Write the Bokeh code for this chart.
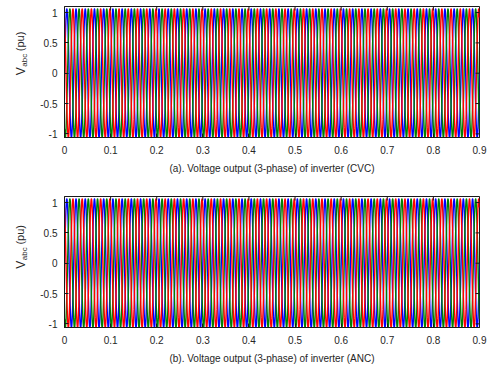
import numpy as np
from bokeh.plotting import figure
from bokeh.models import FixedTicker, Range1d
from bokeh.layouts import column, row
from bokeh.core.properties import value
from bokeh.embed import file_html
from bokeh.resources import INLINE

# ---- data ----
T_END = 0.9                       # s
SAMPLE_STEP = 0.0001              # s
FREQ_HZ = 50                      # fundamental frequency
PHASE_NAMES = ["a", "b", "c"]
PHASE_COLORS = ["#0000ff", "#008000", "#ff0000"]
PHASE_SHIFT_DEG = [0, -120, 120]
AMPLITUDE_CVC = [1.06, 1.06, 1.06]
AMPLITUDE_ANC = [1.06, 1.06, 1.06]
Y_MIN, Y_MAX = -1.06, 1.10
X_TICKS = [0, 0.1, 0.2, 0.3, 0.4, 0.5, 0.6, 0.7, 0.8, 0.9]
X_TICK_LABELS = ["0", "0.1", "0.2", "0.3", "0.4", "0.5", "0.6", "0.7", "0.8", "0.9"]
Y_TICKS = [-1, -0.5, 0, 0.5, 1]
Y_TICK_LABELS = ["-1", "-0.5", "0", "0.5", "1"]
Y_LABEL_PARTS = ["V", "abc", "(pu)"]
TITLES = ["(a). Voltage output (3-phase) of inverter (CVC)",
          "(b). Voltage output (3-phase) of inverter (ANC)"]

FONT = "Liberation Sans"
TXT = "#262626"
BOX = "#1a1a1a"

t = np.arange(0, T_END + SAMPLE_STEP / 2, SAMPLE_STEP)

W = 488
LBL_W = 30
B_LEFT, B_RIGHT = 64 - LBL_W, 9
FRAME_H = 131


def make_label_fig(height, b_top):
    lf = figure(width=LBL_W, height=height, output_backend="svg", toolbar_location=None,
                x_range=Range1d(0, LBL_W), y_range=Range1d(0, height),
                x_axis_location=None, y_axis_location=None,
                min_border=0, min_border_left=0, min_border_right=0,
                min_border_top=0, min_border_bottom=0)
    lf.grid.visible = False
    lf.outline_line_color = None
    lf.background_fill_color = "white"
    lf.border_fill_color = "white"
    center = b_top + FRAME_H / 2          # pixels from the top
    # (x baseline px, start offset below centre px, font size)
    specs = [(20.5, 26.0, "12px"), (23.5, 14.0, "8px"), (19.5, -8.0, "11px")]
    for txt, (bx, off, fs) in zip(Y_LABEL_PARTS, specs):
        lf.text(x=[bx], y=[height - (center + off)], text=[txt], angle=np.pi / 2,
                text_align="left", text_baseline="alphabetic",
                text_font=value(FONT), text_font_size=fs, text_color=TXT)
    return lf


def make_fig(amps, title, height, b_top):
    b_bottom = height - b_top - FRAME_H
    frame_w = W - LBL_W - B_LEFT - B_RIGHT
    p = figure(width=W - LBL_W, height=height, output_backend="svg", toolbar_location=None,
               x_range=Range1d(0, T_END), y_range=Range1d(Y_MIN, Y_MAX),
               min_border_left=B_LEFT, min_border_right=B_RIGHT,
               min_border_top=b_top, min_border_bottom=b_bottom)
    p.grid.visible = False
    p.outline_line_color = BOX
    p.outline_line_width = 1
    p.background_fill_color = "white"
    p.border_fill_color = "white"

    for amp, sh, col in zip(amps, PHASE_SHIFT_DEG, PHASE_COLORS):
        v = amp * np.sin(2 * np.pi * FREQ_HZ * t + np.deg2rad(sh))
        p.line(t, v, line_color=col, line_width=1.4)

    # box-style inward ticks on top and right edges
    dy = 4 * (Y_MAX - Y_MIN) / FRAME_H
    dx = 4 * T_END / frame_w
    p.segment(x0=X_TICKS, y0=[Y_MAX] * len(X_TICKS), x1=X_TICKS, y1=[Y_MAX - dy] * len(X_TICKS),
              line_color=BOX, line_width=1)
    p.segment(x0=[T_END] * len(Y_TICKS), y0=Y_TICKS, x1=[T_END - dx] * len(Y_TICKS), y1=Y_TICKS,
              line_color=BOX, line_width=1)

    xa = p.xaxis[0]
    xa.ticker = FixedTicker(ticks=X_TICKS)
    xa.major_label_overrides = {tk: lb for tk, lb in zip(X_TICKS, X_TICK_LABELS)}
    ya = p.yaxis[0]
    ya.ticker = FixedTicker(ticks=Y_TICKS)
    ya.major_label_overrides = {tk: lb for tk, lb in zip(Y_TICKS, Y_TICK_LABELS)}

    for ax in (xa, ya):
        ax.major_tick_in = 4
        ax.major_tick_out = 0
        ax.minor_tick_line_color = None
        ax.axis_line_color = BOX
        ax.major_tick_line_color = BOX
        ax.major_label_text_font = FONT
        ax.major_label_text_font_size = "10px"
        ax.major_label_text_color = TXT

    xa.major_label_standoff = 8
    xa.axis_label = title
    xa.axis_label_text_font = FONT
    xa.axis_label_text_font_size = "10px"
    xa.axis_label_text_font_style = "normal"
    xa.axis_label_text_color = TXT
    xa.axis_label_standoff = 6
    ya.major_label_standoff = 7
    return p


H1, T1 = 186, 6
H2, T2 = 184, 10
r1 = row(make_label_fig(H1, T1), make_fig(AMPLITUDE_CVC, TITLES[0], H1, T1), spacing=0)
r2 = row(make_label_fig(H2, T2), make_fig(AMPLITUDE_ANC, TITLES[1], H2, T2), spacing=0)

layout = column(r1, r2, spacing=0)
open("out.html", "w").write(file_html(layout, INLINE))
